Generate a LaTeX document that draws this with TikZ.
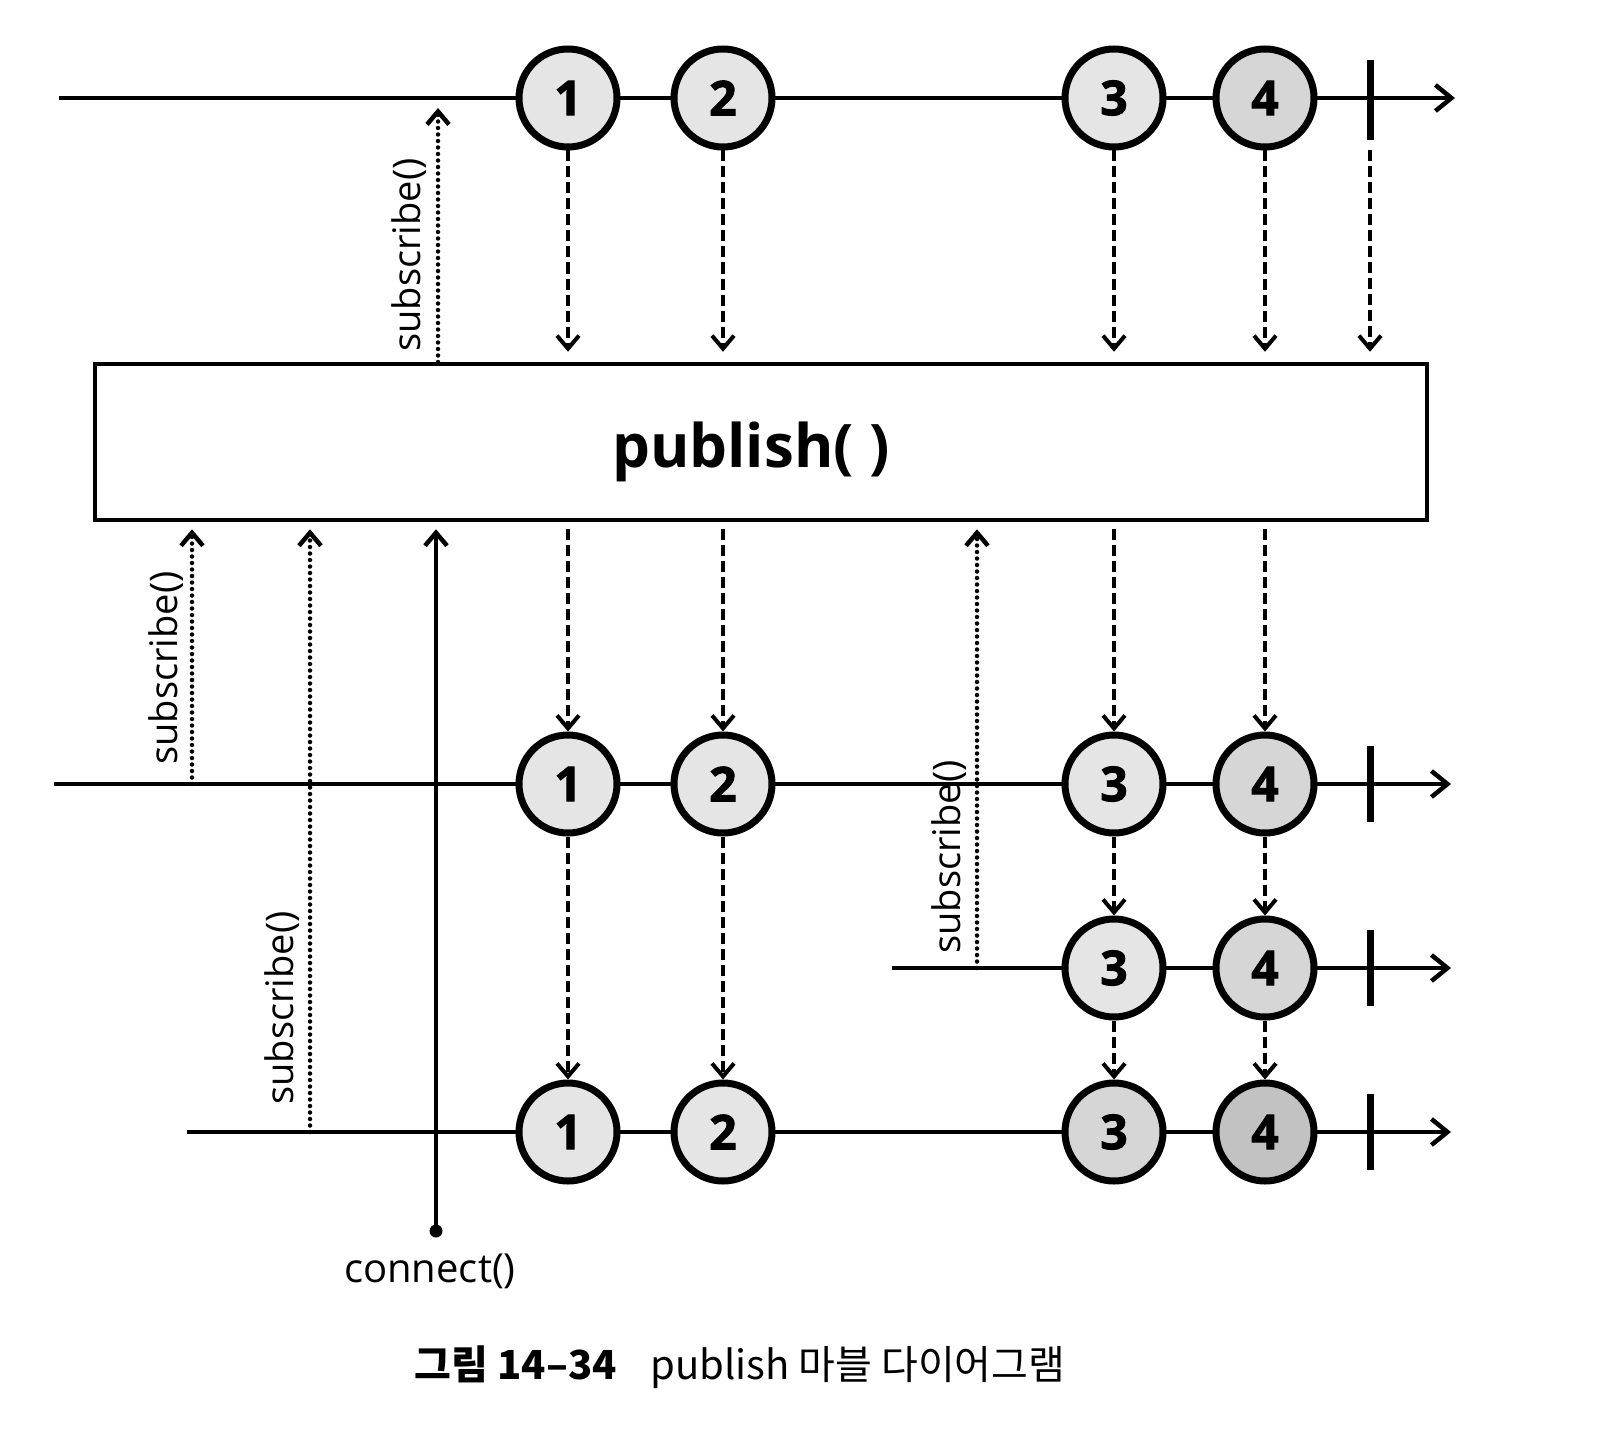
\documentclass[tikz,border=0pt]{standalone}
\usepackage{fontspec}
\setmainfont{Open Sans}
\newfontfamily\numfont{Open Sans}[BoldFeatures={FakeBold=2}]
\newfontfamily\krfont{Noto Sans CJK KR}
\usetikzlibrary{arrows.meta}
\begin{document}
\begin{tikzpicture}[x=1pt,y=-1pt,
  tl/.style={line width=4.5pt,-{Straight Barb[length=16pt,width=26pt,line width=4.5pt]}},
  marble/.style={circle,draw,line width=7pt,minimum size=98pt,inner sep=0pt,
     font=\fontsize{48}{48}\numfont\bfseries},
  mA/.style={marble,fill=black!10},
  mB/.style={marble,fill=black!16},
  mC/.style={marble,fill=black!24},
  dsh/.style={line width=4pt,dash pattern=on 11pt off 5pt,
     -{Straight Barb[length=13pt,width=22pt,line width=4pt]}},
  dot/.style={line width=4.5pt,line cap=round,dash pattern=on 0pt off 6.5pt,
     -{Straight Barb[length=13pt,width=22pt,line width=4.5pt]}},
  sol/.style={line width=4.5pt,-{Straight Barb[length=13pt,width=22pt,line width=4.5pt]}},
  tick/.style={line width=7pt},
  vlab/.style={rotate=90,font=\fontsize{38}{38}\selectfont,inner sep=0pt},
]
\useasboundingbox[fill=white] (0,0) rectangle (1612,1434);

% columns / rows
\def\ca{568}\def\cb{723}\def\cc{1114}\def\cd{1265}
\def\tk{1370}

% publish box
\node[draw,line width=4.5pt,minimum width=1332pt,minimum height=156pt,inner sep=0pt] (box) at (761,442) {};
\node[font=\fontsize{60}{60}\selectfont\bfseries] (ptxt) at (751,452) {publish( )};

% timelines
\coordinate (r0s) at (59,98);   \coordinate (r0e) at (1455,98);
\coordinate (r1s) at (54,784);  \coordinate (r1e) at (1451,784);
\coordinate (r2s) at (892,968); \coordinate (r2e) at (1451,968);
\coordinate (r3s) at (187,1132);\coordinate (r3e) at (1451,1132);
\draw[tl] (r0s) -- (r0e);
\draw[tl] (r1s) -- (r1e);
\draw[tl] (r2s) -- (r2e);
\draw[tl] (r3s) -- (r3e);

% completion ticks
\draw[tick] (\tk,60) -- (\tk,140);
\coordinate (tk0) at (\tk,150);
\draw[tick] (\tk,746) -- (\tk,822);
\draw[tick] (\tk,930) -- (\tk,1006);
\draw[tick] (\tk,1094) -- (\tk,1170);

% marbles
\node[mA] (t1) at (\ca,98) {1};
\node[mA] (t2) at (\cb,98) {2};
\node[mA] (t3) at (\cc,98) {3};
\node[mB] (t4) at (\cd,98) {4};
\node[mA] (a1) at (\ca,784) {1};
\node[mA] (a2) at (\cb,784) {2};
\node[mA] (a3) at (\cc,784) {3};
\node[mB] (a4) at (\cd,784) {4};
\node[mA] (b3) at (\cc,968) {3};
\node[mB] (b4) at (\cd,968) {4};
\node[mA] (c1) at (\ca,1132) {1};
\node[mA] (c2) at (\cb,1132) {2};
\node[mB] (c3) at (\cc,1132) {3};
\node[mC] (c4) at (\cd,1132) {4};

% source -> publish
\foreach \n in {t1,t2,t3,t4}{
  \draw[dsh,shorten >=10pt] (\n.south) -- (\n.south |- box.north);
}
\draw[dsh,shorten >=10pt] (tk0) -- (tk0 |- box.north);

% publish -> first subscriber
\foreach \n in {a1,a2,a3,a4}{
  \draw[dsh,shorten <=7pt] (box.south -| \n) -- (\n.north);
}
% propagation down
\draw[dsh] (a1.south) -- (c1.north);
\draw[dsh] (a2.south) -- (c2.north);
\draw[dsh] (a3.south) -- (b3.north);
\draw[dsh] (a4.south) -- (b4.north);
\draw[dsh] (b3.south) -- (c3.north);
\draw[dsh] (b4.south) -- (c4.north);

% subscribe calls
\coordinate (s0) at (438,362);
\draw[dot,shorten >=10pt] (s0) -- (s0 |- r0s);
\node[vlab] (l0) at (409,255) {subscribe()};

\coordinate (s1) at (192,784);
\draw[dot,shorten >=7pt] (s1) -- (s1 |- box.south);
\node[vlab] (l1) at (166,668) {subscribe()};

\coordinate (s2) at (310,1132);
\draw[dot,shorten >=7pt] (s2) -- (s2 |- box.south);
\node[vlab] (l2) at (282,1008) {subscribe()};

\coordinate (s3) at (977,968);
\draw[dot,shorten >=7pt] (s3) -- (s3 |- box.south);
\node[vlab] (l3) at (949,857) {subscribe()};

% connect
\coordinate (cn) at (436,1231);
\fill (cn) circle (6.5pt);
\draw[sol,shorten >=7pt] (cn) -- (cn |- box.south);
\node[font=\fontsize{40}{40}\selectfont,anchor=north] (cl) at (430,1250) {connect()};

% caption
\node[font=\fontsize{40}{40}\selectfont] (cap) at (740,1367)
  {{\krfont\bfseries 그림 14–34}\hspace{34pt}{\krfont publish 마블 다이어그램}};
\end{tikzpicture}
\end{document}
